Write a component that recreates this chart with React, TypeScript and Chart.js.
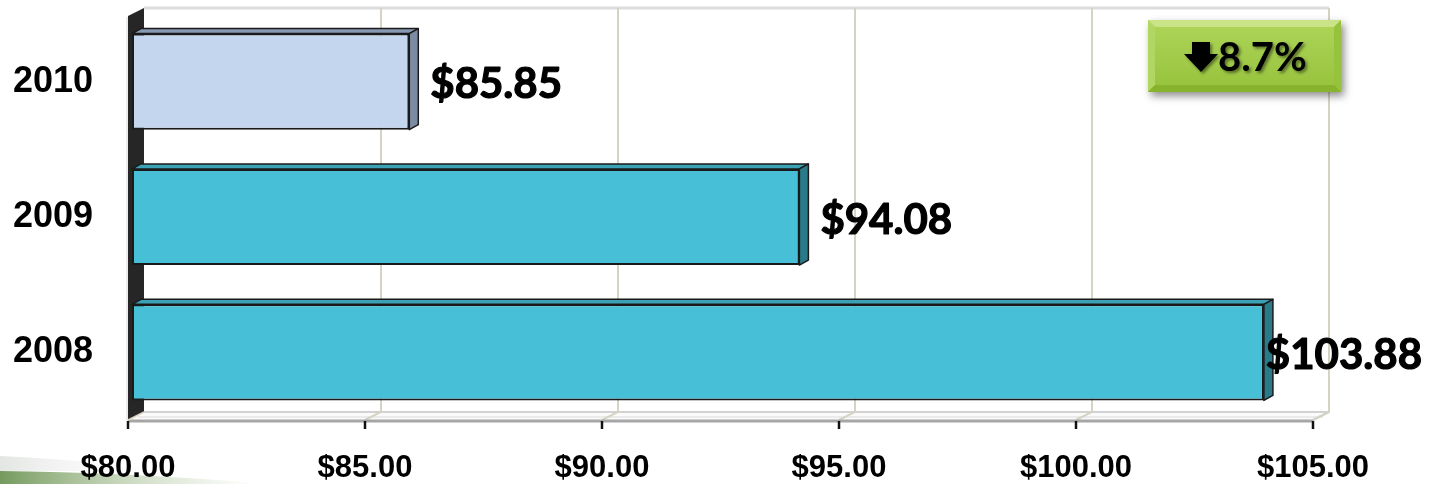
import React, { useEffect, useRef } from 'react';
import { Chart, registerables } from 'chart.js';

Chart.register(...registerables);

const categories = ['2010', '2009', '2008'];
const prices = [85.85, 94.08, 103.88];
const axisMin = 80;
const axisMax = 105;
const axisStep = 5;
const changeText = '8.7%';

const frontColors = ['#c3d6ee', '#47bfd7', '#47bfd7'];
const sideColors = ['#7b8ba3', '#2a7b8a', '#2a7b8a'];
const topColors = ['#8798b2', '#3ba2b6', '#3ba2b6'];

const WALL_DX = 16;
const WALL_DY = 8;
const BAR_DX = 9;
const BAR_DY = 5;
const FRONT_SHIFT = 4;

const line = (ctx: CanvasRenderingContext2D, pts: number[][], color: string, w: number) => {
  ctx.beginPath();
  ctx.moveTo(pts[0][0], pts[0][1]);
  for (let i = 1; i < pts.length; i++) ctx.lineTo(pts[i][0], pts[i][1]);
  ctx.strokeStyle = color;
  ctx.lineWidth = w;
  ctx.stroke();
};

const poly = (ctx: CanvasRenderingContext2D, pts: number[][], fill: string, stroke?: string, w = 1) => {
  ctx.beginPath();
  ctx.moveTo(pts[0][0], pts[0][1]);
  for (let i = 1; i < pts.length; i++) ctx.lineTo(pts[i][0], pts[i][1]);
  ctx.closePath();
  ctx.fillStyle = fill;
  ctx.fill();
  if (stroke) {
    ctx.strokeStyle = stroke;
    ctx.lineWidth = w;
    ctx.lineJoin = 'round';
    ctx.stroke();
  }
};

const decorPlugin = {
  id: 'decor',
  beforeDraw(chart: any) {
    const { ctx, chartArea, scales } = chart;
    const xs = scales.x;
    const fx = (v: number) => xs.getPixelForValue(v) - FRONT_SHIFT;
    const top = chartArea.top;
    const bottom = chartArea.bottom;
    const L = fx(axisMin);
    const R = fx(axisMax);
    ctx.save();
    ctx.fillStyle = '#ffffff';
    ctx.fillRect(0, 0, chart.width, chart.height);

    // green swoosh bottom-left
    const g = ctx.createLinearGradient(0, 0, 260, 0);
    g.addColorStop(0, 'rgba(70,120,40,0.75)');
    g.addColorStop(0.5, 'rgba(110,150,80,0.35)');
    g.addColorStop(1, 'rgba(160,190,140,0)');
    ctx.beginPath();
    ctx.moveTo(0, 471);
    ctx.quadraticCurveTo(120, 472, 270, 484);
    ctx.lineTo(0, 484);
    ctx.closePath();
    ctx.fillStyle = g;
    ctx.fill();
    const g2 = ctx.createLinearGradient(0, 0, 180, 0);
    g2.addColorStop(0, 'rgba(200,205,200,0.5)');
    g2.addColorStop(1, 'rgba(255,255,255,0)');
    ctx.beginPath();
    ctx.moveTo(0, 456);
    ctx.quadraticCurveTo(100, 460, 210, 478);
    ctx.quadraticCurveTo(110, 469, 0, 471);
    ctx.closePath();
    ctx.fillStyle = g2;
    ctx.fill();

    // floor
    poly(ctx, [[L, bottom], [L + WALL_DX, bottom - WALL_DY], [R + WALL_DX, bottom - WALL_DY], [R, bottom]], '#fbfbfb');
    line(ctx, [[L + WALL_DX, bottom - WALL_DY], [R + WALL_DX, bottom - WALL_DY]], '#d2d2d2', 2);
    line(ctx, [[L + WALL_DX - 6, bottom - 3], [R + WALL_DX - 6, bottom - 3]], '#e4e4e4', 1.5);
    line(ctx, [[R, bottom], [R + WALL_DX, bottom - WALL_DY]], '#d4d4d4', 2);

    // back top border
    line(ctx, [[L + WALL_DX, top - 6], [R + WALL_DX, top - 6]], '#dcdcdc', 3);

    // gridlines (back wall + floor)
    for (let v = axisMin + axisStep; v <= axisMax; v += axisStep) {
      const x0 = fx(v);
      line(ctx, [[x0 + WALL_DX, top - 6], [x0 + WALL_DX, bottom - WALL_DY], [x0, bottom]], '#d6d3c3', 2);
    }

    // front axis edge
    line(ctx, [[L, bottom + 1], [R, bottom + 1]], '#a6a6a6', 3);

    // left side wall
    poly(ctx, [[L, top + 2], [L + WALL_DX, top - 6], [L + WALL_DX, bottom - WALL_DY], [L, bottom]], '#262626');
    line(ctx, [[L - 1, top + 3], [L - 1, bottom + 1]], '#d8d8d8', 1);
    line(ctx, [[L, bottom], [L + WALL_DX, bottom - WALL_DY]], '#d8d3bd', 1.5);

    // tick marks
    for (let v = axisMin; v <= axisMax; v += axisStep) {
      const x0 = fx(v);
      line(ctx, [[x0, bottom + 1], [x0, bottom + 9]], '#111111', 2.5);
    }
    ctx.restore();
  },
  beforeDatasetsDraw(chart: any) {
    const { ctx } = chart;
    const meta = chart.getDatasetMeta(0);
    ctx.save();
    meta.data.forEach((bar: any, i: number) => {
      const p = bar.getProps(['x', 'y', 'base', 'height'], true);
      const t = p.y - p.height / 2;
      const b = p.y + p.height / 2;
      poly(ctx, [[p.base, t], [p.base + BAR_DX, t - BAR_DY], [p.x + BAR_DX, t - BAR_DY], [p.x, t]], topColors[i], '#1a1a1a', 1.5);
      poly(ctx, [[p.x, t], [p.x + BAR_DX, t - BAR_DY], [p.x + BAR_DX, b - BAR_DY], [p.x, b]], sideColors[i], '#1a1a1a', 1.5);
    });
    ctx.restore();
  },
  afterDatasetsDraw(chart: any) {
    const { ctx } = chart;
    const meta = chart.getDatasetMeta(0);
    ctx.save();
    ctx.font = 'bold 42px Lato, "Open Sans", sans-serif';
    ctx.fillStyle = '#000000';
    ctx.strokeStyle = '#000000';
    ctx.lineWidth = 1.2;
    ctx.lineJoin = 'round';
    ctx.textBaseline = 'middle';
    ctx.textAlign = 'left';
    meta.data.forEach((bar: any, i: number) => {
      const p = bar.getProps(['x', 'y'], true);
      const txt = '$' + prices[i].toFixed(2);
      const w = ctx.measureText(txt).width;
      const tx = Math.min(p.x + 21, chart.width - 15 - w);
      ctx.fillText(txt, tx, p.y + 3);
      ctx.strokeText(txt, tx, p.y + 3);
    });
    ctx.restore();
  },
  afterDraw(chart: any) {
    const { ctx } = chart;
    const bx = 1148, by = 20, bw = 193, bh = 72, bv = 7;
    ctx.save();
    ctx.shadowColor = 'rgba(0,0,0,0.45)';
    ctx.shadowBlur = 8;
    ctx.shadowOffsetX = 3;
    ctx.shadowOffsetY = 4;
    const gg = ctx.createLinearGradient(0, by, 0, by + bh);
    gg.addColorStop(0, '#bcdd72');
    gg.addColorStop(0.5, '#a2cc49');
    gg.addColorStop(1, '#8fbb32');
    ctx.fillStyle = gg;
    ctx.fillRect(bx, by, bw, bh);
    ctx.shadowColor = 'transparent';
    poly(ctx, [[bx, by], [bx + bw, by], [bx + bw - bv, by + bv], [bx + bv, by + bv]], '#c8e487');
    poly(ctx, [[bx, by], [bx + bv, by + bv], [bx + bv, by + bh - bv], [bx, by + bh]], '#b2d663');
    poly(ctx, [[bx + bw, by], [bx + bw, by + bh], [bx + bw - bv, by + bh - bv], [bx + bw - bv, by + bv]], '#96c23d');
    poly(ctx, [[bx, by + bh], [bx + bv, by + bh - bv], [bx + bw - bv, by + bh - bv], [bx + bw, by + bh]], '#88b32d');
    const gi = ctx.createLinearGradient(0, by + bv, 0, by + bh - bv);
    gi.addColorStop(0, '#acd356');
    gi.addColorStop(1, '#98c43f');
    ctx.fillStyle = gi;
    ctx.fillRect(bx + bv, by + bv, bw - 2 * bv, bh - 2 * bv);

    ctx.shadowColor = 'rgba(0,0,0,0.45)';
    ctx.shadowBlur = 3;
    ctx.shadowOffsetX = 2;
    ctx.shadowOffsetY = 2;
    poly(ctx, [[1192, 42], [1210, 42], [1210, 54], [1218, 54], [1201, 72], [1184, 54], [1192, 54]], '#000000');
    ctx.font = 'bold 40px Lato, "Open Sans", sans-serif';
    ctx.fillStyle = '#000000';
    ctx.textBaseline = 'middle';
    ctx.textAlign = 'left';
    ctx.fillText(changeText, 1218, 58);
    ctx.restore();
  },
};

export default function App() {
  const canvasRef = useRef<HTMLCanvasElement | null>(null);

  useEffect(() => {
    if (!canvasRef.current) return;
    const chart = new Chart(canvasRef.current, {
      type: 'bar',
      data: {
        labels: categories,
        datasets: [
          {
            data: prices,
            base: axisMin,
            backgroundColor: frontColors,
            borderColor: '#1a1a1a',
            borderWidth: 2,
            borderSkipped: false,
            barPercentage: 0.71,
            categoryPercentage: 1,
          },
        ],
      },
      options: {
        indexAxis: 'y',
        animation: false,
        responsive: true,
        maintainAspectRatio: false,
        devicePixelRatio: 1,
        layout: { padding: { left: 0, right: 120, top: 14, bottom: 0 } },
        plugins: {
          legend: { display: false },
          tooltip: { enabled: false },
        },
        scales: {
          x: {
            type: 'linear',
            min: axisMin,
            max: axisMax,
            grid: { display: false, drawTicks: false },
            border: { display: false },
            ticks: {
              stepSize: axisStep,
              autoSkip: false,
              maxRotation: 0,
              labelOffset: -FRONT_SHIFT,
              padding: 30,
              color: '#000000',
              font: { family: '"Liberation Sans", Arial, sans-serif', weight: 'bold', size: 31 },
              callback: (v: any) => '$' + Number(v).toFixed(2),
            },
            afterFit: (s: any) => {
              s.height = 64;
              s.paddingLeft = 0;
              s.paddingRight = 0;
            },
          },
          y: {
            grid: { display: false, drawTicks: false },
            border: { display: false },
            ticks: {
              padding: 39,
              color: '#000000',
              font: { family: '"Liberation Sans", Arial, sans-serif', weight: 'bold', size: 36 },
            },
            afterFit: (s: any) => {
              s.width = 132;
              s.paddingTop = 0;
              s.paddingBottom = 0;
            },
          },
        },
      },
      plugins: [decorPlugin],
    });
    return () => chart.destroy();
  }, []);

  return (
    <div style={{ position: 'absolute', left: 0, top: 0, width: 1437, height: 484 }}>
      <canvas ref={canvasRef} />
    </div>
  );
}
